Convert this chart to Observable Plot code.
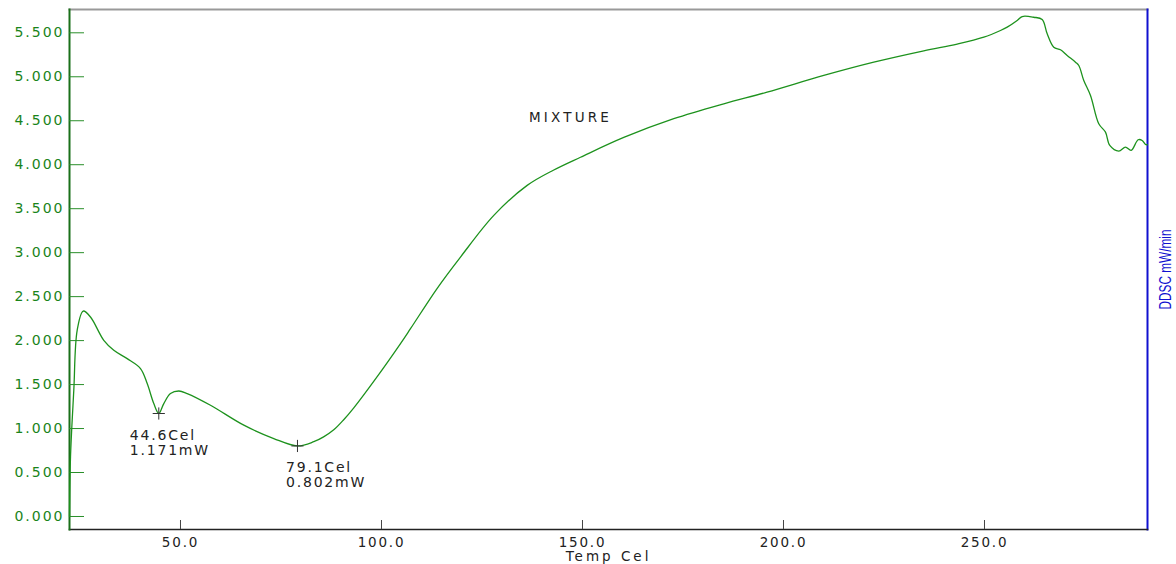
<!DOCTYPE html>
<html><head><meta charset="utf-8">
<script src="https://cdn.jsdelivr.net/npm/d3@7"></script>
<script src="https://cdn.jsdelivr.net/npm/@observablehq/plot@0.6"></script>
<style>
html,body{margin:0;padding:0;background:#fff;}
#chart svg{font-family:"DejaVu Sans",sans-serif;}
#chart g[aria-label="y-axis tick label"] text{letter-spacing:2px;}
#chart g[aria-label="x-axis tick label"] text{letter-spacing:1.8px;}
#chart g[aria-description="peak"] text{letter-spacing:1.8px;}
#chart g[aria-description="sample"] text{letter-spacing:3.2px;}
#chart g[aria-description="xlabel"] text{letter-spacing:3px;}
#chart g[aria-description="ylabel"] text{font-family:"Liberation Sans",Arial,sans-serif;}
</style></head>
<body><div id="chart"></div>
<script>
// DSC trace (Temp Cel vs DDSC mW/min)
const temperature = [22.4, 22.64, 23.46, 24.30, 25.80, 27.61, 30.92, 33.41, 36.74, 40.05, 41.72, 43.36, 44.6, 45.85, 47.51, 49.58, 51.67, 57.46, 65.75, 73.21, 79.1, 83.16, 85.6, 88.13, 90.6, 93.11, 98.93, 104.73, 107.21, 113.86, 119.65, 127.94, 136.24, 142.86, 149.50, 160.27, 172.71, 185.15, 195.92, 210.02, 222.46, 234.90, 243.21, 249.83, 253.98, 255.65, 258.13, 259.38, 262.26, 264.35, 265.60, 267.24, 268.91, 270.57, 272.64, 273.46, 274.70, 276.37, 278.43, 280.10, 281.17, 283.41, 285.07, 286.49, 288.23, 289.22, 290.05, 290.47];
const ddsc = [0.00, 0.677, 1.435, 2.117, 2.336, 2.268, 2.003, 1.890, 1.795, 1.682, 1.511, 1.284, 1.171, 1.284, 1.398, 1.427, 1.398, 1.265, 1.038, 0.886, 0.802, 0.850, 0.905, 0.985, 1.100, 1.235, 1.590, 1.966, 2.135, 2.595, 2.950, 3.424, 3.765, 3.940, 4.085, 4.310, 4.523, 4.693, 4.825, 5.015, 5.166, 5.295, 5.372, 5.450, 5.526, 5.564, 5.640, 5.685, 5.677, 5.651, 5.489, 5.336, 5.307, 5.242, 5.166, 5.128, 4.958, 4.788, 4.466, 4.370, 4.219, 4.155, 4.200, 4.163, 4.284, 4.276, 4.230, 4.227];

const xTicks = [50, 100, 150, 200, 250];
const yTicks = [0, 0.5, 1, 1.5, 2, 2.5, 3, 3.5, 4, 4.5, 5, 5.5];
const peakTemps = [44.6, 79.1];
const peakValues = [1.171, 0.802];
const sampleName = ["MIXTURE"];
const xLabel = ["Temp Cel"];
const yLabel = ["DDSC mW/min"];

const series = temperature.map((t, i) => ({t, v: ddsc[i]}));
const peaks = peakTemps.map((t, i) => ({t, v: peakValues[i], label: `${t.toFixed(1)}Cel\n${peakValues[i].toFixed(3)}mW`}));

const chart = Plot.plot({
  width: 1176, height: 564,
  marginLeft: 69, marginRight: 29, marginTop: 9, marginBottom: 35,
  x: {domain: [22.39, 290.55]},
  y: {domain: [-0.148, 5.765]},
  marks: [
    Plot.frame({anchor: "top", stroke: "#999", strokeWidth: 2}),
    Plot.frame({anchor: "right", stroke: "#1010d0", strokeWidth: 2}),
    Plot.frame({anchor: "bottom", stroke: "#222", strokeWidth: 1.5}),
    Plot.frame({anchor: "left", stroke: "#1a701a", strokeWidth: 2}),
    Plot.axisY(yTicks, {label: null, tickSize: -15, color: "#2a8f2a", tickFormat: () => ""}),
    Plot.axisY(yTicks, {label: null, tickSize: 0, tickPadding: 5, color: "#1a841a", fontSize: 14, tickFormat: d3.format(".3f")}),
    Plot.axisX(xTicks, {label: null, tickSize: -9, color: "#444", tickFormat: () => ""}),
    Plot.axisX(xTicks, {label: null, tickSize: 0, tickPadding: 8, color: "#222", fontSize: 13.5, tickFormat: d3.format(".1f")}),
    Plot.line(series, {x: "t", y: "v", stroke: "#1d921d", strokeWidth: 1.3, curve: "catmull-rom"}),
    Plot.dot(peaks, {x: "t", y: "v", symbol: "plus", r: 4, stroke: "#333", strokeWidth: 1}),
    Plot.text(peaks.slice(0, 1), {x: "t", y: "v", text: "label", textAnchor: "start", lineAnchor: "top", dx: -29, dy: 16, lineHeight: 1.05, fontSize: 14, fill: "#222", ariaDescription: "peak"}),
    Plot.text(peaks.slice(1), {x: "t", y: "v", text: "label", textAnchor: "start", lineAnchor: "top", dx: -11.5, dy: 16, lineHeight: 1.05, fontSize: 14, fill: "#222", ariaDescription: "peak"}),
    Plot.text(sampleName, {text: d => d, frameAnchor: "top", lineAnchor: "middle", dx: -38, dy: 108, fontSize: 13.5, fill: "#222", ariaDescription: "sample"}),
    Plot.text(xLabel, {text: d => d, frameAnchor: "bottom", lineAnchor: "middle", dy: 27, fontSize: 13.5, fill: "#222", ariaDescription: "xlabel"}),
    Plot.text(yLabel, {text: d => d, frameAnchor: "right", rotate: -90, textAnchor: "start", lineAnchor: "middle", dx: 18, dy: 40, fontSize: 16, fill: "#1010d0", ariaDescription: "ylabel"})
  ]
});
d3.select(chart).selectAll('g[aria-description="ylabel"] text').attr("textLength", 80).attr("lengthAdjust", "spacingAndGlyphs");
document.getElementById("chart").append(chart);
</script>
</body></html>
